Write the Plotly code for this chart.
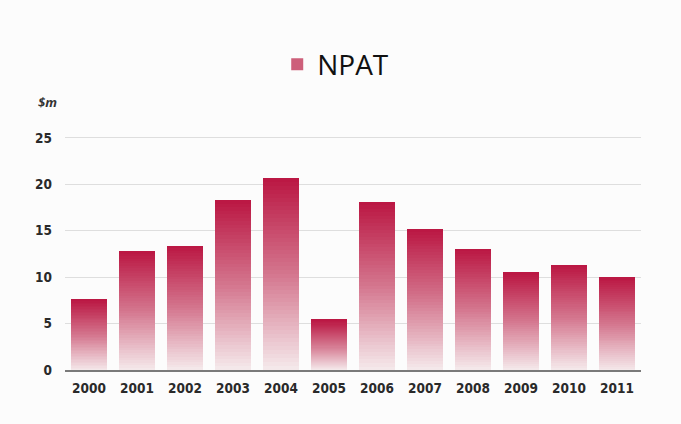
import plotly.graph_objects as go

# Net profit after tax, $m
years = ["2000", "2001", "2002", "2003", "2004", "2005",
         "2006", "2007", "2008", "2009", "2010", "2011"]
npat = [7.6, 12.8, 13.4, 18.3, 20.7, 5.4, 18.1, 15.2, 13.05, 10.5, 11.3, 10.0]
y_ticks = [0, 5, 10, 15, 20, 25]

# Vertical fade: each bar is built from stacked slices, dark at the top
N_SLICES = 48
top_rgb = (186, 22, 66)
mid_rgb = (212, 118, 142)
bot_rgb = (245, 234, 236)

TICK_FONT = dict(size=13.5, color="#2a2a2a",
                 family="DejaVu Sans Condensed, Open Sans",
                 weight=600)


def shade(t):
    # t = 0 at bar base, 1 at bar top
    if t < 0.5:
        a, b, u = bot_rgb, mid_rgb, t / 0.5
    else:
        a, b, u = mid_rgb, top_rgb, (t - 0.5) / 0.5
    r, g, bl = (round(a[k] + (b[k] - a[k]) * u) for k in range(3))
    return f"rgb({r},{g},{bl})"


fig = go.Figure()
for i in range(N_SLICES):
    t = (i + 0.5) / N_SLICES
    fig.add_trace(go.Bar(
        x=years,
        y=[v / N_SLICES for v in npat],
        marker=dict(color=shade(t), line=dict(width=0)),
        name="NPAT",
        showlegend=False,
        hoverinfo="skip",
    ))

# Legend entry
fig.add_trace(go.Bar(
    x=[None], y=[None], name="NPAT",
    marker=dict(color="rgb(205,95,122)", line=dict(width=0)),
    showlegend=True,
))

fig.add_annotation(
    text="<b><i>$m</i></b>", xref="paper", yref="paper",
    x=-0.03, y=1.14, xanchor="center", yanchor="middle",
    showarrow=False,
    font=dict(size=13, color="#333", family="Open Sans"),
)

fig.update_layout(
    width=681, height=424,
    margin=dict(l=65, r=40, t=135, b=54),
    paper_bgcolor="#fcfcfc", plot_bgcolor="#fcfcfc",
    barmode="stack", bargap=0.27,
    font=dict(family="Open Sans", color="#222"),
    legend=dict(
        orientation="h", x=0.47, y=1.30, xanchor="center", yanchor="middle",
        font=dict(size=28, color="#111", family="Open Sans"),
        bgcolor="rgba(0,0,0,0)",
    ),
    xaxis=dict(
        type="category", showgrid=False, showline=True,
        linecolor="#7a7a7a", linewidth=1.5,
        tickfont=TICK_FONT,
        ticks="", ticklabelstandoff=5,
    ),
    yaxis=dict(
        range=[0, 25.3], tickvals=y_ticks, showgrid=True,
        gridcolor="#dedede", gridwidth=1, zeroline=False,
        tickfont=TICK_FONT,
        ticks="", ticklabelstandoff=12,
    ),
)

fig.write_html("out.html")
